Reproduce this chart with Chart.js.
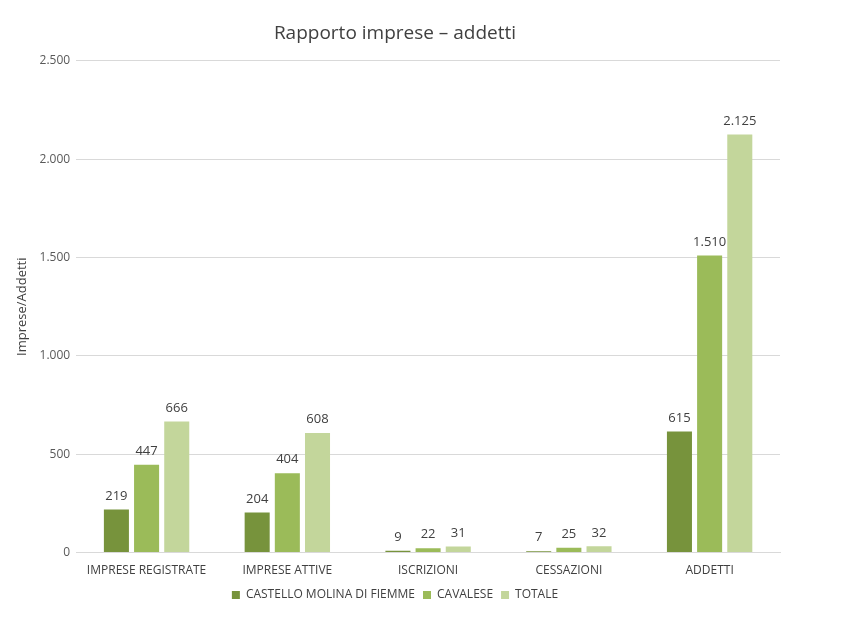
<!DOCTYPE html>
<html><head><meta charset="utf-8">
<script src="https://cdn.jsdelivr.net/npm/chart.js@4/dist/chart.umd.min.js"></script>
<style>body{margin:0;background:#fff}#w{width:850px;height:638px}</style>
</head><body><div id="w"><canvas id="c"></canvas></div>
<script>
const categories=["IMPRESE REGISTRATE","IMPRESE ATTIVE","ISCRIZIONI","CESSAZIONI","ADDETTI"];
const castello=[219,204,9,7,615];
const cavalese=[447,404,22,25,1510];
const totale=[666,608,31,32,2125];
const seriesNames=["CASTELLO MOLINA DI FIEMME","CAVALESE","TOTALE"];
const fmt=v=>v.toLocaleString('it-IT');
const labelPlugin={id:'lbl',afterDatasetsDraw(ch){const ctx=ch.ctx;ctx.save();ctx.font='13px "Open Sans", sans-serif';ctx.fillStyle='#404040';ctx.textAlign='center';ctx.textBaseline='bottom';
ch.data.datasets.forEach((ds,i)=>{ch.getDatasetMeta(i).data.forEach((b,j)=>{ctx.fillText(fmt(ds.data[j]),b.x,b.y-7);});});ctx.restore();}};
new Chart(document.getElementById('c'),{type:'bar',
data:{labels:categories,datasets:[
{label:seriesNames[0],data:castello,backgroundColor:'#77933c'},
{label:seriesNames[1],data:cavalese,backgroundColor:'#9bbb59'},
{label:seriesNames[2],data:totale,backgroundColor:'#c3d69b'}]},
options:{responsive:true,maintainAspectRatio:false,animation:false,
layout:{padding:{left:10,right:70,top:13,bottom:27}},
datasets:{bar:{categoryPercentage:0.643,barPercentage:0.83}},
plugins:{title:{display:true,text:'Rapporto imprese – addetti',color:'#404040',font:{family:'"Open Sans", sans-serif',size:19,weight:'normal'},padding:{top:9,bottom:16}},
legend:{position:'bottom',labels:{boxWidth:8,boxHeight:8,color:'#404040',font:{family:'"Open Sans", sans-serif',size:12},padding:8}},tooltip:{enabled:false}},
scales:{x:{grid:{display:false},border:{color:'#d9d9d9'},ticks:{color:'#404040',padding:3,font:{family:'"Open Sans", sans-serif',size:12}}},
y:{min:0,max:2500,ticks:{stepSize:500,color:'#595959',padding:6,font:{family:'"Open Sans", sans-serif',size:12},callback:v=>fmt(v)},grid:{color:'#d9d9d9',tickLength:0},border:{display:false},
title:{display:true,text:'Imprese/Addetti',color:'#404040',font:{family:'"Open Sans", sans-serif',size:13}}}}},
plugins:[labelPlugin]});
</script></body></html>
